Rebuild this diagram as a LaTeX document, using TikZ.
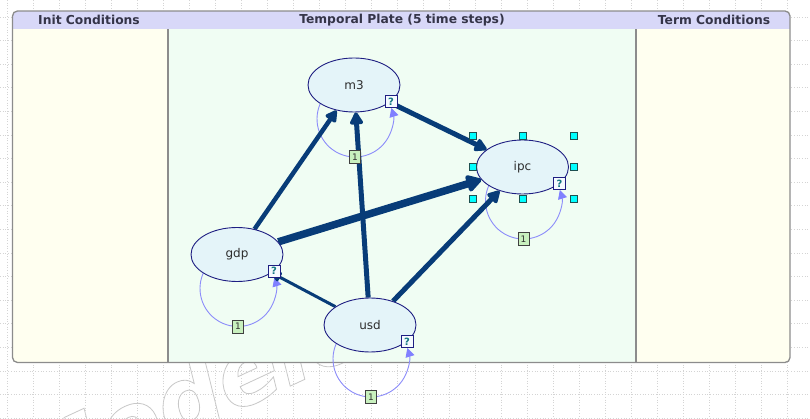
\documentclass[tikz,border=0pt]{standalone}
\usepackage{fontspec}
\setmainfont{DejaVu Sans}
\usetikzlibrary{shapes.geometric,arrows.meta}

\definecolor{gridgray}{RGB}{212,212,212}
\definecolor{wmgray}{RGB}{200,200,200}
\definecolor{plateedge}{RGB}{140,140,140}
\definecolor{headfill}{RGB}{216,216,248}
\definecolor{headtext}{RGB}{52,52,72}
\definecolor{sidefill}{RGB}{255,255,240}
\definecolor{midfill}{RGB}{240,253,243}
\definecolor{nodefill}{RGB}{228,244,249}
\definecolor{nodeedge}{RGB}{30,30,130}
\definecolor{labeltext}{RGB}{45,45,45}
\definecolor{linkblue}{RGB}{8,60,120}
\definecolor{loopblue}{RGB}{140,140,250}
\definecolor{looptip}{RGB}{128,128,255}
\definecolor{qfill}{RGB}{245,250,255}
\definecolor{qtext}{RGB}{20,120,130}
\definecolor{onefill}{RGB}{200,240,190}
\definecolor{handlefill}{RGB}{0,255,255}
\definecolor{handleedge}{RGB}{30,80,80}

\pgfdeclarelayer{bg}
\pgfdeclarelayer{links}
\pgfsetlayers{bg,links,main}

% outlined text through the PDF text rendering mode
\newcommand{\hollowtext}[1]{%
  \special{pdf:literal direct 1 Tr 0.8 w}#1\special{pdf:literal direct 0 Tr}}

\begin{document}
\begin{tikzpicture}[x=1pt,y=1pt,
  gridline/.style={draw=gridgray,line width=0.7pt,dotted},
  wmark/.style={anchor=base west,inner sep=0,rotate=25,text=wmgray,
    font=\fontsize{92}{92}\selectfont\bfseries\itshape},
  plateline/.style={draw=plateedge,line width=1.3pt},
  headlabel/.style={inner sep=0,text=headtext,
    font=\fontsize{12.3}{12.3}\selectfont\bfseries},
  varnode/.style={ellipse,draw=nodeedge,line width=0.9pt,fill=nodefill,
    minimum width=92pt,minimum height=54pt,inner sep=0,text=labeltext,
    font=\fontsize{12}{12}\selectfont},
  qbox/.style={rectangle,draw=nodeedge,line width=0.9pt,fill=qfill,
    minimum width=12pt,minimum height=12pt,inner sep=0,text=qtext,
    font=\fontsize{10}{10}\selectfont\bfseries},
  onebox/.style={rectangle,draw=black!75,line width=0.8pt,fill=onefill,
    minimum width=11pt,minimum height=13pt,inner sep=0,text=black!80,
    font=\fontsize{9}{9}\selectfont},
  handle/.style={rectangle,draw=handleedge,line width=0.6pt,fill=handlefill,
    minimum size=7pt,inner sep=0},
  link/.style={draw=linkblue,line width=#1,
    -{Triangle[round,length=8pt 1.2,width=6pt 1.7]}},
  selfloop/.style={draw=loopblue,line width=0.9pt,
    -{Triangle[length=9pt,width=9pt,color=looptip,fill=looptip]}}
]
\useasboundingbox (0,0) rectangle (810,-419);

\begin{pgfonlayer}{bg}
  \fill[white] (0,0) rectangle (810,-419);
  % faint outlined watermark
  \node[wmark] (wm) at (31,-507) {\hollowtext{Modeler}};
  % dotted canvas grid
  \foreach \gx in {7,33,...,807}
    \draw[gridline] (\gx,0) -- (\gx,-419);
  \foreach \k in {0,...,17}
    \draw[gridline] (0,{-17-23.6*\k}) -- (810,{-17-23.6*\k});
  % plate with its three columns
  \begin{scope}
    \clip[rounded corners=5pt] (12.5,-11) rectangle (790,-362.5);
    \fill[sidefill] (12.5,-11) rectangle (790,-362.5);
    \fill[midfill] (168,-29.5) rectangle (636,-362.5);
    \fill[headfill] (12.5,-11) rectangle (790,-29.5);
  \end{scope}
  \draw[plateline,rounded corners=5pt] (12.5,-11) rectangle (790,-362.5);
  \draw[plateline] (168,-29.5) -- (168,-362.5);
  \draw[plateline] (636,-29.5) -- (636,-362.5);
  \node[headlabel] (hInit) at (89,-20) {Init Conditions};
  \node[headlabel] (hTemp) at (402,-20) {Temporal Plate (5 time steps)};
  \node[headlabel] (hTerm) at (714,-20) {Term Conditions};
\end{pgfonlayer}

% variables
\node[varnode] (m3)  at (354,-85)    {m3};
\node[varnode] (ipc) at (522.5,-167) {ipc};
\node[varnode] (gdp) at (237,-254.5) {gdp};
\node[varnode] (usd) at (370,-325)   {usd};

% self loops with their order labels and status boxes
\foreach \v in {m3,ipc,gdp,usd}{
  \begin{pgfonlayer}{links}
    \draw[selfloop] ([shift={(-31.9,-15)}]\v.center)
      arc[start angle=150,end angle=377,radius=38pt];
  \end{pgfonlayer}
  \node[qbox]   (\v q)   at ([shift={(37,-16.5)}]\v.center) {?};
  \node[onebox] (\v one) at ([shift={(1,-72)}]\v.center) {1};
}

% arcs between variables
\begin{pgfonlayer}{links}
  \draw[link=4.5pt] (gdp) -- (m3);
  \draw[link=5pt]   (usd) -- (m3);
  \draw[link=5pt]   (m3)  -- (ipc);
  \draw[link=7.5pt] (gdp) -- (ipc);
  \draw[link=5pt]   (usd) -- (ipc);
  \draw[link=3pt]   (usd) -- (gdp);
\end{pgfonlayer}

% selection handles around ipc
\node[handle] (h1) at ([shift={(-50,31.5)}]ipc.center) {};
\node[handle] (h2) at ([shift={(0.5,31.5)}]ipc.center) {};
\node[handle] (h3) at ([shift={(51.5,31.5)}]ipc.center) {};
\node[handle] (h4) at ([shift={(-50,0)}]ipc.center) {};
\node[handle] (h5) at ([shift={(51.5,0)}]ipc.center) {};
\node[handle] (h6) at ([shift={(-50,-32)}]ipc.center) {};
\node[handle] (h7) at ([shift={(0.5,-32)}]ipc.center) {};
\node[handle] (h8) at ([shift={(51.5,-32)}]ipc.center) {};
\end{tikzpicture}
\end{document}
